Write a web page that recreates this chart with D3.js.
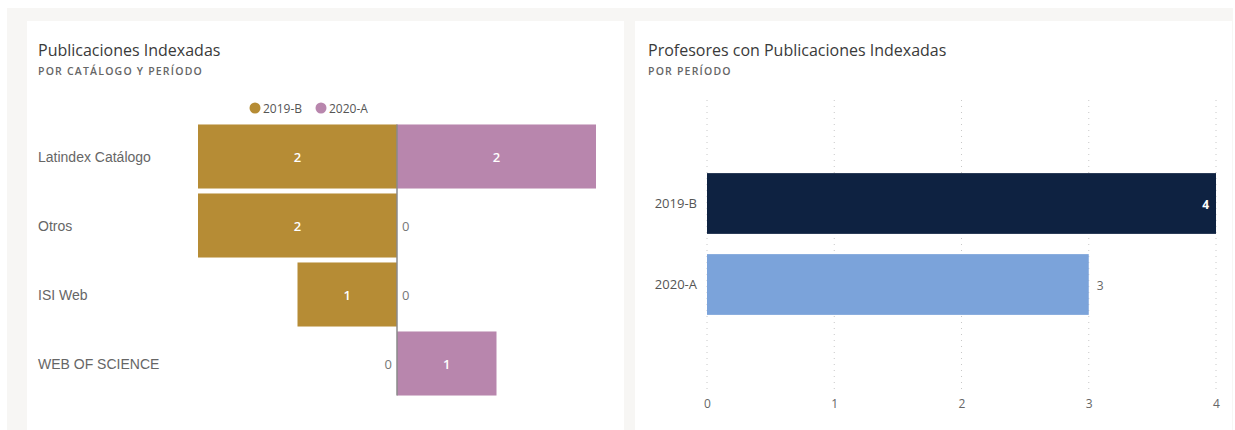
<!DOCTYPE html>
<html>
<head>
<meta charset="utf-8">
<script src="https://cdn.jsdelivr.net/npm/d3@7"></script>
<style>
  body { margin: 0; background: #fff; }
  svg { display: block; }
</style>
</head>
<body>
<svg id="chart" width="1235" height="430" font-family="Open Sans, sans-serif"></svg>
<script>
// left chart data
const catalogos = ["Latindex Catálogo", "Otros", "ISI Web", "WEB OF SCIENCE"];
const periodos = ["2019-B", "2020-A"];
const val2019B = [2, 2, 1, 0];
const val2020A = [2, 0, 0, 1];

// right chart data
const periodosProf = ["2019-B", "2020-A"];
const profesores = [4, 3];
const xTicks = [0, 1, 2, 3, 4];

const colorL = { "2019-B": "#b68c35", "2020-A": "#b886ad" };
const colorR = ["#0e2241", "#7ba3da"];

const svg = d3.select("#chart");

// background frame + panels
svg.append("rect").attr("x", 7).attr("y", 8).attr("width", 1226).attr("height", 422).attr("fill", "#f7f6f4");
svg.append("rect").attr("x", 27).attr("y", 21).attr("width", 597).attr("height", 409).attr("fill", "#fff");
svg.append("rect").attr("x", 635).attr("y", 21).attr("width", 597).attr("height", 409).attr("fill", "#fff");

function titles(x, t, sub) {
  svg.append("text").attr("x", x).attr("y", 56).attr("font-size", 16).attr("fill", "#3a3a3a").text(t);
  svg.append("text").attr("x", x).attr("y", 75).attr("font-size", 10.5).attr("font-weight", 600)
    .attr("letter-spacing", 1.2).attr("fill", "#666").text(sub);
}
titles(38, "Publicaciones Indexadas", "POR CATÁLOGO Y PERÍODO");
titles(648, "Profesores con Publicaciones Indexadas", "POR PERÍODO");

// ---- left: diverging bars
const y = d3.scaleBand().domain(catalogos).range([122, 398]).paddingInner(0.072).paddingOuter(0.036);
const xLeft = d3.scaleLinear().domain([0, 2]).range([397, 198]);
const xRight = d3.scaleLinear().domain([0, 2]).range([397, 596]);

const gL = svg.append("g");

// category labels
gL.selectAll(".cat").data(catalogos).enter().append("text")
  .attr("x", 38).attr("y", d => y(d) + y.bandwidth() / 2 + 5)
  .attr("font-family", "Liberation Sans, Arial, sans-serif")
  .attr("font-size", 14).attr("fill", "#666").text(d => d);

const rows = catalogos.map((c, i) => ({ c, a: val2019B[i], b: val2020A[i] }));

gL.selectAll(".barA").data(rows).enter().append("rect")
  .attr("x", d => xLeft(d.a)).attr("y", d => y(d.c))
  .attr("width", d => xLeft(0) - xLeft(d.a)).attr("height", y.bandwidth())
  .attr("fill", colorL["2019-B"]);

gL.selectAll(".barB").data(rows).enter().append("rect")
  .attr("x", xRight(0)).attr("y", d => y(d.c))
  .attr("width", d => xRight(d.b) - xRight(0)).attr("height", y.bandwidth())
  .attr("fill", colorL["2020-A"]);

// zero line
gL.append("line").attr("x1", xLeft(0)).attr("x2", xLeft(0))
  .attr("y1", y(catalogos[0])).attr("y2", y(catalogos[3]) + y.bandwidth())
  .attr("stroke", "#8a8a8a").attr("stroke-width", 1.5);

// labels
gL.selectAll(".lblA").data(rows).enter().append("text")
  .attr("x", d => d.a > 0 ? (xLeft(d.a) + xLeft(0)) / 2 : xLeft(0) - 5)
  .attr("y", d => y(d.c) + y.bandwidth() / 2 + 5)
  .attr("text-anchor", d => d.a > 0 ? "middle" : "end")
  .attr("font-size", 13).attr("font-weight", d => d.a > 0 ? 600 : 400)
  .attr("fill", d => d.a > 0 ? "#fff" : "#777").text(d => d.a);

gL.selectAll(".lblB").data(rows).enter().append("text")
  .attr("x", d => d.b > 0 ? (xRight(d.b) + xRight(0)) / 2 : xRight(0) + 5)
  .attr("y", d => y(d.c) + y.bandwidth() / 2 + 5)
  .attr("text-anchor", d => d.b > 0 ? "middle" : "start")
  .attr("font-size", 13).attr("font-weight", d => d.b > 0 ? 600 : 400)
  .attr("fill", d => d.b > 0 ? "#fff" : "#777").text(d => d.b);

// legend
const leg = gL.selectAll(".leg").data(periodos).enter().append("g")
  .attr("transform", (d, i) => `translate(${255 + i * 66},108)`);
leg.append("circle").attr("r", 5.5).attr("fill", d => colorL[d]);
leg.append("text").attr("x", 8).attr("y", 4.5).attr("font-size", 12).attr("fill", "#555").text(d => d);

// ---- right: horizontal bars
const x2 = d3.scaleLinear().domain([0, 4]).range([707, 1216]);
const y2 = d3.scaleBand().domain(periodosProf).range([163, 325]).paddingInner(0.25).paddingOuter(0.125);
const gR = svg.append("g");

gR.selectAll(".grid").data(xTicks).enter().append("line")
  .attr("x1", d => x2(d)).attr("x2", d => x2(d)).attr("y1", 100).attr("y2", 392)
  .attr("stroke", "#c8c8c8").attr("stroke-width", 1).attr("stroke-dasharray", "1,5");

const xAxis = gR.append("g").attr("transform", "translate(0,392)")
  .call(d3.axisBottom(x2).tickValues(xTicks).tickFormat(d3.format("d")).tickSize(0).tickPadding(7));
xAxis.select(".domain").remove();
xAxis.selectAll("text").attr("font-size", 12).attr("fill", "#666").attr("font-family", "Open Sans, sans-serif");

const yAxis = gR.append("g").attr("transform", "translate(697,0)")
  .call(d3.axisLeft(y2).tickSize(0).tickPadding(0));
yAxis.select(".domain").remove();
yAxis.selectAll("text").attr("font-size", 13).attr("fill", "#555").attr("font-family", "Open Sans, sans-serif");

const rowsR = periodosProf.map((p, i) => ({ p, v: profesores[i], c: colorR[i] }));
gR.selectAll(".bar").data(rowsR).enter().append("rect")
  .attr("x", x2(0)).attr("y", d => y2(d.p))
  .attr("width", d => x2(d.v) - x2(0)).attr("height", y2.bandwidth())
  .attr("fill", d => d.c);

gR.selectAll(".lbl").data(rowsR).enter().append("text")
  .attr("x", (d, i) => i === 0 ? x2(d.v) - 7 : x2(d.v) + 8)
  .attr("y", d => y2(d.p) + y2.bandwidth() / 2 + 5)
  .attr("text-anchor", (d, i) => i === 0 ? "end" : "start")
  .attr("font-size", 12).attr("font-weight", (d, i) => i === 0 ? 700 : 400)
  .attr("fill", (d, i) => i === 0 ? "#fff" : "#666").text(d => d.v);
</script>
</body>
</html>
